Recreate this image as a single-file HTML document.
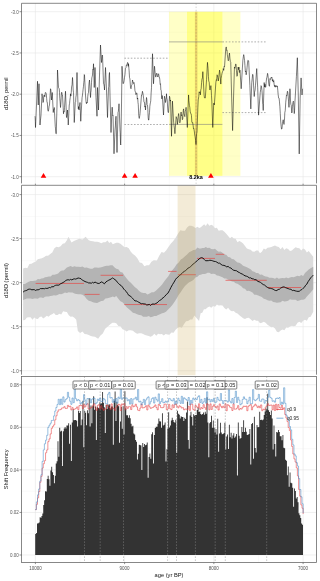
<!DOCTYPE html>
<html><head><meta charset="utf-8"><title>chart</title>
<style>html,body{margin:0;padding:0;background:#fff}svg{display:block}</style></head>
<body>
<svg width="320" height="581" viewBox="0 0 320 581">
<rect width="320" height="581" fill="#fff"/>
<clipPath id="c1"><rect x="21.5" y="3.3" width="295.0" height="181.0"/></clipPath>
<rect x="21.5" y="3.3" width="295.0" height="181.0" fill="#fff"/>
<line x1="80.00" x2="80.00" y1="3.3" y2="184.3" stroke="#f0f0f0" stroke-width="0.35"/>
<line x1="169.22" x2="169.22" y1="3.3" y2="184.3" stroke="#f0f0f0" stroke-width="0.35"/>
<line x1="258.48" x2="258.48" y1="3.3" y2="184.3" stroke="#f0f0f0" stroke-width="0.35"/>
<line x1="21.5" x2="316.5" y1="32.33" y2="32.33" stroke="#f0f0f0" stroke-width="0.35"/>
<line x1="21.5" x2="316.5" y1="73.58" y2="73.58" stroke="#f0f0f0" stroke-width="0.35"/>
<line x1="21.5" x2="316.5" y1="114.83" y2="114.83" stroke="#f0f0f0" stroke-width="0.35"/>
<line x1="21.5" x2="316.5" y1="156.07" y2="156.07" stroke="#f0f0f0" stroke-width="0.35"/>
<line x1="35.40" x2="35.40" y1="3.3" y2="184.3" stroke="#e6e6e6" stroke-width="0.6"/>
<line x1="124.60" x2="124.60" y1="3.3" y2="184.3" stroke="#e6e6e6" stroke-width="0.6"/>
<line x1="213.85" x2="213.85" y1="3.3" y2="184.3" stroke="#e6e6e6" stroke-width="0.6"/>
<line x1="303.10" x2="303.10" y1="3.3" y2="184.3" stroke="#e6e6e6" stroke-width="0.6"/>
<line x1="21.5" x2="316.5" y1="11.70" y2="11.70" stroke="#e6e6e6" stroke-width="0.6"/>
<line x1="21.5" x2="316.5" y1="52.95" y2="52.95" stroke="#e6e6e6" stroke-width="0.6"/>
<line x1="21.5" x2="316.5" y1="94.20" y2="94.20" stroke="#e6e6e6" stroke-width="0.6"/>
<line x1="21.5" x2="316.5" y1="135.45" y2="135.45" stroke="#e6e6e6" stroke-width="0.6"/>
<line x1="21.5" x2="316.5" y1="176.70" y2="176.70" stroke="#e6e6e6" stroke-width="0.6"/>
<g clip-path="url(#c1)">
<rect x="169" y="11.75" width="71.4" height="164.1" fill="#ffff00" fill-opacity="0.22"/>
<rect x="187" y="11.75" width="35.4" height="164.1" fill="#ffff00" fill-opacity="0.32"/>
<rect x="194.9" y="11.75" width="2.5" height="164.1" fill="#cf9440" fill-opacity="0.4"/>
<line x1="196.1" x2="196.1" y1="3.3" y2="184.3" stroke="#555" stroke-opacity="0.55" stroke-width="0.45" stroke-dasharray="1.6 1.6"/>
<line x1="124.4" x2="169" y1="58.2" y2="58.2" stroke="#777" stroke-width="0.6" stroke-dasharray="1.6 1.6"/>
<line x1="124.4" x2="169" y1="124.5" y2="124.5" stroke="#777" stroke-width="0.6" stroke-dasharray="1.6 1.6"/>
<line x1="169" x2="222.4" y1="41.9" y2="41.9" stroke="#808080" stroke-opacity="0.6" stroke-width="1"/>
<line x1="169" x2="222.4" y1="124.4" y2="124.4" stroke="#808080" stroke-opacity="0.6" stroke-width="1"/>
<line x1="222.4" x2="267" y1="41.9" y2="41.9" stroke="#777" stroke-width="0.6" stroke-dasharray="1.6 1.6"/>
<line x1="222.4" x2="267" y1="112.6" y2="112.6" stroke="#777" stroke-width="0.6" stroke-dasharray="1.6 1.6"/>
<polyline points="35.00,116.25 35.15,117.51 35.35,121.53 35.50,127.50 36.50,105.00 37.50,81.25 38.25,105.00 39.00,83.75 40.00,125.00 40.33,120.89 40.61,118.96 41.00,115.00 42.00,93.75 42.26,95.59 42.61,96.64 43.00,102.50 43.39,102.11 43.77,96.20 44.25,95.00 44.77,96.83 45.28,92.66 45.75,92.50 46.25,93.74 46.66,98.53 47.00,102.50 47.34,102.58 47.81,110.05 48.25,111.25 48.60,110.01 49.12,106.14 49.50,105.00 50.50,88.75 50.83,89.86 51.11,93.84 51.50,100.00 51.76,96.93 51.99,95.66 52.25,92.50 53.25,112.50 53.57,109.71 53.97,110.10 54.25,107.50 55.25,126.25 55.54,128.85 55.93,133.59 56.25,133.75 57.00,105.00 57.50,70.00 58.50,87.50 58.86,88.02 59.25,88.94 59.50,92.50 59.81,98.73 60.12,101.78 60.50,107.50 60.76,104.67 61.21,97.22 61.50,92.50 61.88,92.34 62.20,94.83 62.50,95.00 63.50,113.75 63.84,111.38 64.23,111.88 64.50,107.50 65.50,91.25 66.50,117.50 66.82,116.08 67.11,114.14 67.50,110.00 67.76,118.16 68.04,119.56 68.25,125.00 69.25,105.00 69.56,103.70 69.85,100.24 70.25,97.50 70.53,93.83 70.86,96.07 71.25,92.50 71.59,86.94 72.07,84.85 72.50,77.50 72.76,81.13 73.18,90.04 73.50,92.50 74.25,122.50 75.25,102.50 75.62,101.89 75.89,97.18 76.25,95.00 77.00,72.50 78.00,105.00 78.30,108.82 78.74,106.62 79.00,110.00 79.28,106.32 79.64,105.15 80.00,102.50 80.75,121.25 81.75,102.50 82.09,97.69 82.35,96.01 82.75,92.50 83.06,89.84 83.49,86.21 83.75,82.50 84.00,80.75 84.28,74.56 84.50,75.00 85.50,95.00 85.88,100.05 86.23,103.19 86.50,103.75 86.81,102.37 87.12,103.02 87.50,101.25 87.76,96.38 88.13,93.70 88.50,92.50 88.80,86.05 89.10,82.91 89.50,80.00 90.50,97.50 90.77,92.70 91.10,90.69 91.50,82.50 91.84,77.83 92.14,76.80 92.50,75.00 92.80,69.31 93.23,69.78 93.50,63.75 94.25,87.50 95.00,67.50 96.00,97.50 97.00,116.25 97.50,87.50 98.50,110.00 99.50,75.00 100.50,45.00 101.50,62.50 101.82,60.00 102.11,55.52 102.50,55.00 103.50,83.75 103.80,84.22 104.22,86.25 104.50,90.00 105.50,67.50 106.50,90.00 107.50,117.50 108.50,87.50 108.75,86.40 109.18,75.19 109.50,72.50 110.00,95.00 111.00,132.50 112.00,107.50 112.33,107.15 112.68,115.47 113.00,115.00 114.00,153.75 115.00,130.00 115.38,125.96 115.64,120.41 116.00,116.25 117.00,152.50 118.00,112.50 118.28,111.72 118.68,108.23 119.00,103.75 120.00,130.00 120.22,132.83 120.54,143.74 120.75,145.00 121.50,105.00 122.00,66.25 123.00,83.75 123.57,83.22 124.08,80.67 124.50,77.50 124.93,74.77 125.48,68.14 126.00,67.50 126.38,64.91 126.96,65.46 127.50,62.50 127.89,62.68 128.24,66.35 128.50,63.75 128.89,68.35 129.13,70.82 129.50,77.50 129.92,78.87 130.54,87.70 131.00,88.75 131.56,85.34 132.05,84.44 132.50,80.00 132.89,81.62 133.60,83.53 134.00,82.50 134.54,85.99 134.94,90.50 135.50,92.50 135.95,94.68 136.62,92.81 137.00,93.75 137.31,99.15 137.71,97.97 138.00,102.50 138.27,104.44 138.74,115.37 139.00,117.50 139.27,118.44 139.75,115.64 140.00,113.75 141.50,95.00 141.95,94.91 142.43,91.31 143.00,93.75 143.59,98.11 144.02,102.29 144.50,102.50 144.82,107.09 145.22,106.20 145.50,110.00 145.79,105.16 146.14,102.57 146.50,97.50 146.79,99.18 147.12,104.61 147.50,105.00 147.80,109.29 148.19,117.74 148.50,120.00 148.81,120.16 149.18,115.13 149.50,112.50 149.83,106.33 150.17,103.94 150.50,102.50 150.75,100.54 151.13,92.95 151.50,87.50 152.50,53.75 153.50,83.75 154.50,66.25 154.86,70.18 155.15,72.85 155.50,76.25 155.83,77.12 156.12,75.07 156.50,73.75 156.79,73.13 157.22,75.59 157.50,76.25 157.83,76.97 158.24,74.07 158.50,73.75 158.84,75.07 159.18,77.44 159.50,77.50 159.82,79.69 160.17,84.35 160.50,83.75 160.85,90.00 161.24,90.65 161.50,95.00 161.83,98.91 162.23,95.55 162.50,98.75 163.50,115.00 164.50,96.25 164.77,97.58 165.11,98.51 165.50,102.50 165.76,101.23 166.22,98.60 166.50,93.75 166.77,98.12 167.20,99.47 167.50,105.00 167.88,110.67 168.13,112.46 168.50,112.50 169.50,96.25 169.81,97.34 170.25,101.05 170.50,100.00 171.50,136.25 172.44,101.12 173.68,122.83 174.02,125.39 174.52,129.22 174.92,133.68 176.16,116.63 176.51,117.70 177.04,119.24 177.40,124.38 177.82,120.41 178.15,116.83 178.64,113.53 179.07,116.80 179.40,122.11 179.88,122.83 180.34,121.66 180.65,114.74 181.12,111.98 181.44,115.63 181.92,114.72 182.36,119.73 182.75,118.80 183.26,110.44 183.60,108.88 183.94,113.50 184.45,115.39 184.84,116.63 185.17,111.52 185.72,109.64 186.09,107.33 187.33,127.48 188.57,94.92 188.89,100.79 189.43,105.35 189.81,107.33 190.13,111.09 190.56,113.29 191.05,113.53 191.44,115.52 191.89,122.44 192.29,122.83 192.65,122.40 193.13,125.47 193.53,129.03 193.86,128.65 194.28,131.01 194.77,135.23 195.14,136.82 195.65,140.61 196.01,144.53 196.31,138.57 196.61,133.56 196.94,132.13 197.87,107.33 198.22,99.96 198.75,96.62 199.11,91.82 199.45,92.53 200.03,91.75 200.35,94.92 200.81,89.89 201.19,88.57 201.59,82.52 201.97,79.21 202.46,77.78 202.83,71.67 204.07,94.92 204.44,97.85 204.95,97.93 205.31,98.02 206.55,79.42 207.48,62.36 207.77,65.79 208.05,68.63 208.41,76.32 208.73,81.00 209.20,82.21 209.65,88.72 209.98,89.95 210.56,87.48 210.89,85.62 211.16,88.61 211.49,95.36 211.82,101.12 212.75,127.48 213.68,104.22 213.94,103.05 214.28,105.01 214.61,101.12 215.85,82.52 216.34,79.73 216.64,80.38 217.09,74.77 217.46,75.75 217.84,77.78 218.33,80.97 218.73,77.50 219.11,74.16 219.57,70.12 219.88,72.20 220.33,78.07 220.81,84.07 221.13,78.42 221.61,75.46 222.05,73.22 222.47,71.82 222.94,70.85 223.29,68.57 223.74,70.29 224.11,66.50 224.53,67.02 225.78,48.41 226.27,46.92 226.65,50.37 227.02,49.96 227.33,54.76 227.93,58.69 228.26,60.81 228.70,59.90 229.03,56.14 229.50,53.06 229.90,58.10 230.39,61.72 230.74,62.36 231.67,98.02 232.60,130.58 233.53,98.02 234.46,67.02 234.88,68.33 235.33,66.00 235.70,63.91 236.05,64.63 236.47,70.77 236.94,76.32 237.27,75.86 237.79,70.72 238.18,67.02 238.60,69.70 239.01,67.17 239.42,71.67 239.62,72.59 239.79,70.85 239.96,70.15 241.20,88.76 242.45,67.04 242.88,60.11 243.33,56.74 243.69,54.64 244.01,56.06 244.57,60.57 244.93,65.49 245.38,71.71 245.76,71.06 246.17,74.80 246.57,72.41 247.06,67.74 247.41,63.94 247.84,60.33 248.18,60.54 248.65,60.84 249.89,85.66 250.82,108.92 251.75,82.56 252.20,78.58 252.60,74.32 252.99,74.80 254.23,96.52 254.56,92.31 255.10,90.06 255.47,85.66 256.72,68.60 257.65,87.21 258.58,115.13 259.82,98.07 260.25,92.45 260.66,89.45 261.06,85.66 261.46,86.35 261.97,90.68 262.30,94.96 262.67,103.74 262.86,104.07 263.23,110.48 264.16,82.56 264.62,87.10 264.99,84.27 265.40,87.21 265.75,87.26 266.19,81.82 266.64,77.90 266.98,77.21 267.56,73.39 267.88,74.80 268.35,78.90 268.79,83.98 269.12,85.66 269.48,86.28 269.96,78.63 270.37,79.45 270.68,79.01 271.19,77.23 271.61,77.90 271.94,77.39 272.41,80.95 272.85,79.45 273.16,82.12 273.75,80.55 274.09,84.11 274.57,86.59 275.00,85.13 275.33,87.21 275.71,86.09 276.26,86.58 276.57,85.66 276.95,86.64 277.37,85.93 277.81,90.31 278.14,94.38 278.61,97.91 279.05,98.07 279.41,101.12 279.89,106.70 280.29,113.58 280.67,121.06 281.20,126.81 281.53,129.09 281.96,128.90 282.45,123.64 282.77,121.33 283.22,119.74 283.66,123.24 284.02,124.44 284.47,120.24 284.81,112.75 285.26,110.48 285.74,102.21 286.09,99.13 286.50,94.96 286.86,95.48 287.42,91.21 287.74,91.86 288.17,96.07 288.59,101.83 288.98,107.37 289.91,88.76 290.17,91.00 290.50,100.99 290.84,104.27 291.24,105.11 291.75,112.96 292.08,112.03 292.47,106.42 292.86,102.74 293.32,101.17 293.60,102.45 293.91,107.61 294.25,113.58 294.56,110.70 294.92,102.00 295.18,98.07 296.42,76.35 297.35,57.74 298.29,94.96 299.22,153.91 300.15,98.07 301.08,77.90 302.01,94.96 302.20,93.17 302.42,89.92 302.63,88.76" fill="none" stroke="#000" stroke-width="0.5" stroke-linejoin="round"/>
<polygon points="40.70,177.8 46.30,177.8 43.50,172.9" fill="#ff0000"/>
<polygon points="121.80,177.8 127.40,177.8 124.60,172.9" fill="#ff0000"/>
<polygon points="132.30,177.8 137.90,177.8 135.10,172.9" fill="#ff0000"/>
<polygon points="208.10,177.8 213.70,177.8 210.90,172.9" fill="#ff0000"/>
<text x="196" y="178.6" text-anchor="middle" font-size="5.4" font-weight="bold" fill="#000" font-family="Liberation Sans, Arial, sans-serif">8.2ka</text>
</g>
<path d="M21.5 183.4V3.3H316.5V183.4" fill="none" stroke="#606060" stroke-width="0.75"/>
<line x1="19.5" x2="21.5" y1="11.70" y2="11.70" stroke="#4a4a4a" stroke-width="0.6"/>
<text x="18.7" y="13.60" text-anchor="end" font-size="4.5" fill="#555" font-family="Liberation Sans, Arial, sans-serif">-3.0</text>
<line x1="19.5" x2="21.5" y1="52.95" y2="52.95" stroke="#4a4a4a" stroke-width="0.6"/>
<text x="18.7" y="54.85" text-anchor="end" font-size="4.5" fill="#555" font-family="Liberation Sans, Arial, sans-serif">-2.5</text>
<line x1="19.5" x2="21.5" y1="94.20" y2="94.20" stroke="#4a4a4a" stroke-width="0.6"/>
<text x="18.7" y="96.10" text-anchor="end" font-size="4.5" fill="#555" font-family="Liberation Sans, Arial, sans-serif">-2.0</text>
<line x1="19.5" x2="21.5" y1="135.45" y2="135.45" stroke="#4a4a4a" stroke-width="0.6"/>
<text x="18.7" y="137.35" text-anchor="end" font-size="4.5" fill="#555" font-family="Liberation Sans, Arial, sans-serif">-1.5</text>
<line x1="19.5" x2="21.5" y1="176.70" y2="176.70" stroke="#4a4a4a" stroke-width="0.6"/>
<text x="18.7" y="178.60" text-anchor="end" font-size="4.5" fill="#555" font-family="Liberation Sans, Arial, sans-serif">-1.0</text>
<line x1="35.40" x2="35.40" y1="183.70000000000002" y2="185.0" stroke="#4a4a4a" stroke-width="0.6"/>
<line x1="124.60" x2="124.60" y1="183.70000000000002" y2="185.0" stroke="#4a4a4a" stroke-width="0.6"/>
<line x1="213.85" x2="213.85" y1="183.70000000000002" y2="185.0" stroke="#4a4a4a" stroke-width="0.6"/>
<line x1="303.10" x2="303.10" y1="183.70000000000002" y2="185.0" stroke="#4a4a4a" stroke-width="0.6"/>
<text transform="translate(7.6,93.8) rotate(-90)" text-anchor="middle" font-size="5.7" fill="#111" font-family="Liberation Sans, Arial, sans-serif">d18O, permil</text>
<clipPath id="c2"><rect x="21.5" y="185.3" width="295.0" height="190.3"/></clipPath>
<rect x="21.5" y="185.3" width="295.0" height="190.3" fill="#fff"/>
<line x1="80.00" x2="80.00" y1="185.3" y2="375.6" stroke="#f0f0f0" stroke-width="0.35"/>
<line x1="169.22" x2="169.22" y1="185.3" y2="375.6" stroke="#f0f0f0" stroke-width="0.35"/>
<line x1="258.48" x2="258.48" y1="185.3" y2="375.6" stroke="#f0f0f0" stroke-width="0.35"/>
<line x1="21.5" x2="316.5" y1="216.62" y2="216.62" stroke="#f0f0f0" stroke-width="0.35"/>
<line x1="21.5" x2="316.5" y1="260.65" y2="260.65" stroke="#f0f0f0" stroke-width="0.35"/>
<line x1="21.5" x2="316.5" y1="304.68" y2="304.68" stroke="#f0f0f0" stroke-width="0.35"/>
<line x1="21.5" x2="316.5" y1="348.71" y2="348.71" stroke="#f0f0f0" stroke-width="0.35"/>
<line x1="35.40" x2="35.40" y1="185.3" y2="375.6" stroke="#e6e6e6" stroke-width="0.6"/>
<line x1="124.60" x2="124.60" y1="185.3" y2="375.6" stroke="#e6e6e6" stroke-width="0.6"/>
<line x1="213.85" x2="213.85" y1="185.3" y2="375.6" stroke="#e6e6e6" stroke-width="0.6"/>
<line x1="303.10" x2="303.10" y1="185.3" y2="375.6" stroke="#e6e6e6" stroke-width="0.6"/>
<line x1="21.5" x2="316.5" y1="194.60" y2="194.60" stroke="#e6e6e6" stroke-width="0.6"/>
<line x1="21.5" x2="316.5" y1="238.63" y2="238.63" stroke="#e6e6e6" stroke-width="0.6"/>
<line x1="21.5" x2="316.5" y1="282.66" y2="282.66" stroke="#e6e6e6" stroke-width="0.6"/>
<line x1="21.5" x2="316.5" y1="326.69" y2="326.69" stroke="#e6e6e6" stroke-width="0.6"/>
<line x1="21.5" x2="316.5" y1="370.72" y2="370.72" stroke="#e6e6e6" stroke-width="0.6"/>
<g clip-path="url(#c2)">
<polygon points="23.12,268.60 25.21,267.73 27.29,268.37 29.38,264.12 31.46,263.76 33.54,262.60 35.62,261.79 37.71,259.20 39.79,258.85 41.88,258.26 43.96,257.18 46.04,255.76 48.12,255.83 50.21,253.93 52.29,252.44 54.38,248.16 56.46,246.63 58.54,247.23 60.62,246.27 62.71,243.87 64.79,243.20 66.88,240.28 68.44,236.84 71.56,242.62 73.91,241.04 76.25,239.89 79.38,238.70 82.50,239.51 85.62,236.87 88.75,240.14 90.83,241.01 92.92,241.21 95.00,241.73 97.08,241.75 99.17,242.24 101.25,243.35 103.33,242.16 105.42,242.25 107.50,240.40 109.25,243.09 111.00,241.64 112.75,244.16 114.50,243.59 116.25,242.81 118.33,242.77 120.42,243.68 122.50,245.44 124.58,247.20 126.67,246.88 128.75,248.31 130.83,251.85 132.92,254.12 135.00,255.58 137.34,258.18 139.69,262.51 142.03,262.96 144.38,266.24 146.72,265.19 149.06,265.22 151.41,261.87 153.75,260.29 156.88,260.55 159.22,255.87 161.56,252.00 163.91,252.72 166.25,250.34 168.59,246.73 170.94,243.47 173.28,241.09 175.62,237.75 177.97,233.81 180.31,230.16 182.66,230.69 185.00,230.74 187.08,227.46 189.17,225.80 191.25,225.73 193.33,226.52 195.42,227.88 197.50,226.85 199.17,228.09 200.83,227.22 202.50,225.80 204.17,224.16 205.83,225.93 207.50,223.15 209.37,225.71 211.25,224.76 213.12,225.67 215.00,228.33 216.87,227.78 218.75,230.82 220.62,230.30 222.50,230.25 224.37,231.77 226.25,233.80 228.12,236.00 230.00,238.31 231.87,236.68 233.75,238.41 235.62,238.77 237.50,242.14 239.37,240.89 241.25,242.00 243.12,243.44 245.00,245.91 246.87,248.46 248.75,249.35 250.62,249.81 252.50,251.59 254.37,251.85 256.25,250.39 258.12,250.40 260.00,253.27 261.87,251.73 263.75,248.50 265.62,249.59 267.50,247.74 269.37,247.44 271.25,247.02 273.12,246.22 275.00,245.41 276.87,246.58 278.75,247.09 280.62,249.30 282.50,246.92 284.37,250.08 286.25,248.13 288.12,249.07 290.00,251.03 291.87,250.56 293.75,248.85 295.62,247.15 297.50,248.04 299.37,248.19 301.25,250.40 303.12,248.55 305.00,249.57 306.87,252.52 308.75,251.00 310.62,253.46 313.25,256.75 313.25,311.87 310.62,316.65 308.75,317.25 306.87,320.66 305.00,319.67 303.12,320.77 301.25,322.92 299.37,321.69 297.50,322.69 295.62,325.65 293.75,326.16 291.87,325.67 290.00,326.42 288.12,327.71 286.25,327.52 284.37,330.20 282.50,329.38 280.62,330.56 278.75,332.21 276.87,331.72 275.00,328.61 273.12,326.97 271.25,327.32 269.37,326.10 267.50,324.66 265.62,322.79 263.75,321.73 261.87,322.81 260.00,323.13 258.12,320.77 256.25,320.65 254.37,319.77 252.50,320.88 250.62,319.29 248.75,317.81 246.87,317.96 245.00,318.92 243.12,318.29 241.25,316.71 239.37,315.15 237.50,313.54 235.62,312.86 233.75,310.97 231.87,311.32 230.00,310.31 228.12,307.80 226.25,309.55 224.37,308.08 222.50,305.48 220.62,305.15 218.75,305.55 216.87,304.43 215.00,306.69 213.12,306.05 211.25,307.76 209.37,306.51 207.50,307.53 205.62,309.34 203.96,309.26 202.29,312.78 200.62,313.28 199.06,321.02 196.72,318.36 194.38,315.60 192.29,319.49 190.21,319.45 188.12,320.99 186.04,321.22 183.96,324.19 181.88,327.83 179.79,326.96 177.71,327.78 175.62,329.63 173.54,332.69 171.46,332.43 169.38,334.81 167.50,334.50 165.62,334.04 163.75,335.45 161.88,333.97 160.00,334.28 158.12,333.72 156.25,335.78 154.38,333.79 152.50,335.84 150.62,336.74 148.75,336.11 146.88,335.56 145.00,335.07 143.12,334.11 141.25,333.21 139.17,333.37 137.08,333.69 135.00,332.50 132.92,330.69 130.83,330.13 128.75,330.19 126.67,331.46 124.58,330.08 122.50,329.35 120.42,326.21 118.33,325.90 116.25,323.20 114.38,322.77 112.50,322.84 110.62,323.93 107.50,326.84 105.16,328.81 102.81,333.40 100.47,335.50 98.12,338.80 95.00,336.64 92.92,336.49 90.83,335.98 88.75,335.10 86.67,334.30 84.58,333.99 82.50,331.49 80.16,333.09 77.81,330.92 76.25,319.78 74.38,317.64 72.50,316.51 70.62,316.77 68.75,315.21 66.88,312.11 65.00,311.65 63.12,311.29 61.25,314.54 59.38,313.87 57.50,315.08 55.71,315.01 53.93,313.05 52.14,314.37 50.36,314.95 48.57,316.68 46.79,315.67 45.00,317.25 43.21,318.56 41.43,316.59 39.64,317.03 37.86,319.04 36.07,318.78 34.29,317.44 32.50,319.78 30.62,317.23 28.75,317.32 26.88,317.53 25.00,320.04 23.12,320.37" fill="#dcdcdc"/>
<polygon points="23.12,283.93 25.00,283.97 26.88,282.76 28.75,281.72 30.62,280.88 32.50,281.01 34.29,280.69 36.07,280.62 37.86,279.02 39.64,279.32 41.43,278.52 43.21,278.27 45.00,277.32 46.88,276.88 48.75,276.59 50.62,276.53 52.50,274.76 54.38,274.67 56.25,274.18 58.12,273.47 60.00,271.45 61.88,270.41 63.75,270.62 66.88,267.54 68.75,266.73 70.62,266.00 72.50,267.10 74.38,266.22 76.25,266.82 78.33,266.63 80.42,267.12 82.50,266.40 84.58,267.80 86.67,267.53 88.75,268.30 90.62,268.80 92.50,268.65 94.38,267.62 96.25,267.54 98.12,267.67 100.21,267.53 102.29,267.02 104.38,266.35 106.46,265.79 108.54,265.73 110.62,265.24 112.50,265.30 114.38,267.27 116.25,268.80 118.33,269.35 120.42,272.04 122.50,272.59 124.58,275.87 126.67,278.40 128.75,281.12 130.83,282.75 132.92,284.99 135.00,287.30 137.08,288.85 139.17,290.95 141.25,292.43 143.33,293.04 145.42,293.08 147.50,294.54 149.58,293.53 151.67,292.34 153.75,292.24 155.83,290.70 157.92,288.69 160.00,286.74 162.08,284.55 164.17,281.43 166.25,278.85 168.33,276.15 170.42,272.55 172.50,269.92 174.58,267.41 176.67,264.15 178.75,262.38 180.83,259.52 182.92,258.35 185.00,256.33 187.08,254.39 189.17,252.19 191.25,251.26 193.33,250.04 195.42,249.80 197.50,247.62 199.17,248.50 200.83,248.57 202.50,248.07 204.17,248.07 205.83,247.07 207.50,248.05 209.37,247.83 211.25,248.95 213.12,249.36 215.00,248.78 216.87,250.59 218.75,251.73 220.62,251.45 222.50,252.79 224.37,254.48 226.25,254.77 228.12,256.93 230.00,257.18 231.87,259.07 233.75,259.25 235.62,260.88 237.50,262.59 239.37,262.81 241.25,264.10 243.12,265.66 245.00,266.62 246.87,267.16 248.75,268.30 250.62,269.21 252.50,271.24 254.37,271.81 256.25,273.05 258.12,272.97 260.00,274.77 261.87,274.49 263.75,275.73 265.62,276.53 267.50,276.80 269.37,277.80 271.25,277.64 273.12,277.96 275.00,278.66 276.87,277.57 278.75,278.81 280.62,278.31 282.50,277.98 284.37,278.35 286.25,277.42 288.12,278.25 290.00,277.48 291.87,276.90 293.75,277.18 295.62,276.45 297.50,275.80 299.37,276.34 301.25,275.12 303.12,275.95 305.00,272.90 306.87,271.19 308.75,269.43 311.00,267.93 313.25,266.87 313.25,289.37 310.62,292.56 308.75,294.44 306.87,296.58 305.00,298.93 303.12,299.67 301.25,299.87 299.37,300.59 297.50,301.11 295.62,299.78 293.75,299.71 291.87,299.65 290.00,299.32 288.12,300.87 286.25,301.20 284.37,301.51 282.50,300.77 280.62,302.20 278.75,302.38 276.87,302.66 275.00,302.31 273.12,301.97 271.25,300.58 269.37,300.86 267.50,300.15 265.62,299.31 263.75,298.64 261.87,296.98 260.00,296.21 258.12,295.44 256.25,294.78 254.37,294.66 252.50,292.57 250.62,291.52 248.75,290.75 246.87,290.89 245.00,288.78 243.12,288.14 241.25,286.16 239.37,284.89 237.50,283.85 235.62,283.13 233.75,281.79 231.87,281.44 230.00,280.28 228.12,279.72 226.25,278.46 224.37,278.42 222.50,277.23 220.62,276.61 218.75,275.87 216.87,275.60 215.00,274.01 213.12,273.67 211.25,273.97 209.37,272.73 207.50,272.84 205.83,273.75 204.17,274.09 202.50,274.01 200.83,274.66 199.17,274.95 197.50,276.78 195.42,277.42 193.33,280.03 191.25,281.14 189.17,282.17 187.08,284.10 185.00,286.03 182.92,288.66 180.83,291.95 178.75,294.67 176.67,298.42 174.58,301.73 172.50,304.65 170.42,307.33 168.33,309.35 166.25,311.54 164.17,312.65 162.08,313.30 160.00,314.30 158.12,315.06 156.25,315.90 154.38,315.95 152.50,316.78 150.62,317.36 148.75,316.00 146.88,316.80 145.00,316.71 143.12,316.67 141.25,315.31 139.17,314.93 137.08,314.21 135.00,313.29 132.92,312.63 130.83,310.82 128.75,309.07 126.67,307.13 124.58,304.48 122.50,302.31 120.42,301.35 118.33,298.72 116.25,295.88 114.50,297.27 112.75,296.57 111.00,297.13 109.25,297.68 107.50,298.17 105.42,298.53 103.33,300.77 101.25,300.90 99.17,302.10 97.08,302.90 95.00,302.73 92.92,302.29 90.83,301.14 88.75,300.71 86.67,298.95 84.58,296.19 82.50,294.67 80.42,294.34 78.33,294.35 76.25,293.96 74.38,293.44 72.50,292.50 70.62,292.38 68.75,292.33 66.88,293.11 65.00,292.49 63.12,293.46 61.25,294.17 59.38,294.09 57.50,295.12 55.71,295.47 53.93,295.33 52.14,295.87 50.36,295.88 48.57,296.58 46.79,296.45 45.00,296.83 43.21,297.89 41.43,297.48 39.64,297.52 37.86,298.77 36.07,298.41 34.29,298.48 32.50,298.91 30.62,298.45 28.75,298.47 26.88,298.62 25.00,299.24 23.12,299.92" fill="#b4b4b4"/>
<line x1="35.6" x2="84" y1="283.45" y2="283.45" stroke="#e6423f" stroke-width="0.65"/>
<line x1="84.6" x2="99.6" y1="294.4" y2="294.4" stroke="#e6423f" stroke-width="0.65"/>
<line x1="100.6" x2="123.1" y1="275.3" y2="275.3" stroke="#e6423f" stroke-width="0.65"/>
<line x1="124.25" x2="167" y1="304.55" y2="304.55" stroke="#e6423f" stroke-width="0.65"/>
<line x1="168.1" x2="176.6" y1="271.4" y2="271.4" stroke="#e6423f" stroke-width="0.65"/>
<line x1="177.9" x2="195.8" y1="274.7" y2="274.7" stroke="#e6423f" stroke-width="0.65"/>
<line x1="197" x2="215" y1="258.4" y2="258.4" stroke="#e6423f" stroke-width="0.65"/>
<line x1="215.75" x2="224.4" y1="254.3" y2="254.3" stroke="#e6423f" stroke-width="0.65"/>
<line x1="225.5" x2="266.75" y1="280.3" y2="280.3" stroke="#e6423f" stroke-width="0.65"/>
<line x1="267.5" x2="301.25" y1="287.5" y2="287.5" stroke="#e6423f" stroke-width="0.65"/>
<polyline points="23.12,292.13 24.38,291.08 25.62,290.69 26.88,290.30 28.12,289.40 29.38,289.13 30.62,289.28 31.88,289.84 33.12,289.62 34.38,289.70 35.62,290.46 36.88,289.75 38.12,289.85 39.38,289.37 40.62,288.53 41.88,288.66 43.12,288.56 44.38,288.77 45.62,288.22 46.88,288.45 48.12,288.16 49.38,287.47 50.62,287.74 51.88,286.59 53.12,286.94 54.38,285.92 55.62,285.31 56.88,285.08 58.12,285.20 59.38,284.98 60.62,283.57 61.88,283.24 63.12,282.43 64.38,281.92 65.62,280.50 66.88,279.99 68.12,279.72 69.38,280.08 70.62,279.39 71.88,279.94 73.12,279.16 74.38,278.84 75.62,279.07 76.88,278.62 78.12,277.98 79.38,278.26 80.94,278.64 82.50,280.29 83.75,280.82 85.00,281.54 86.25,282.00 87.50,282.36 88.75,283.03 90.00,282.89 91.25,283.27 92.50,282.34 93.75,283.01 95.00,282.03 96.56,282.83 98.12,283.51 99.69,283.21 101.25,281.88 102.81,282.54 104.38,283.82 105.94,281.92 107.50,280.90 108.75,280.19 110.00,279.63 111.25,278.85 112.50,277.96 113.75,278.70 115.00,279.72 116.25,280.59 117.50,282.53 118.75,283.60 120.00,284.93 121.25,285.61 122.50,287.13 123.75,289.02 125.00,290.39 126.25,291.50 127.50,293.40 128.75,295.39 130.00,295.86 131.25,296.94 132.50,298.18 133.75,299.70 135.00,300.97 136.25,300.90 137.50,301.53 138.75,302.25 140.00,302.95 141.25,303.77 142.59,303.59 143.93,303.94 145.27,303.97 146.61,304.94 147.95,304.87 149.29,304.42 150.62,305.46 151.88,304.16 153.12,304.01 154.38,304.17 155.62,303.54 156.88,303.05 158.12,301.81 159.38,300.63 160.62,300.14 161.88,298.67 163.12,297.83 164.69,296.45 166.25,294.53 167.81,293.34 169.38,290.60 170.94,287.38 172.50,284.58 174.06,282.11 175.62,279.34 176.88,277.77 178.12,276.98 179.38,275.53 180.62,274.62 181.88,273.53 183.12,272.12 184.38,271.32 185.62,270.56 186.88,269.30 188.12,268.17 189.38,267.53 190.62,266.57 191.88,265.34 193.12,264.14 194.38,263.16 195.94,261.74 197.50,260.45 199.06,259.02 200.31,258.09 201.56,257.63 202.92,258.10 204.27,259.42 205.62,260.78 207.03,260.71 208.44,260.63 209.84,260.25 211.25,260.42 212.66,260.83 214.06,261.37 215.47,261.53 216.87,262.17 218.28,263.18 219.69,263.18 221.09,264.40 222.50,265.28 223.91,265.36 225.31,265.93 226.72,266.88 228.12,266.41 229.53,267.67 230.94,268.04 232.34,269.41 233.75,270.31 235.16,270.55 236.56,270.79 237.97,271.92 239.37,272.54 240.78,273.47 242.19,274.01 243.59,274.89 245.00,275.83 246.41,276.18 247.81,276.72 249.22,277.92 250.62,277.83 252.03,278.78 253.44,278.95 254.84,279.79 256.25,279.62 257.66,281.42 259.06,281.73 260.47,282.37 261.87,283.52 263.28,284.59 264.69,285.14 266.09,286.48 267.50,287.42 268.91,288.17 270.31,288.29 271.72,288.67 273.12,289.10 274.37,289.99 275.62,290.56 276.87,290.53 278.12,289.47 279.37,289.30 280.62,288.14 281.87,287.46 283.12,286.88 284.37,287.03 285.62,287.68 286.87,288.13 288.12,288.59 289.53,289.15 290.94,289.29 292.34,290.49 293.75,290.35 295.16,290.83 296.56,291.19 297.97,291.38 299.37,291.22 300.62,290.17 301.87,289.55 303.12,288.25 304.37,287.33 305.62,285.23 306.87,284.10 308.12,281.64 309.37,279.88 310.62,277.88 311.94,276.55 313.25,275.12" fill="none" stroke="#000" stroke-width="0.9" stroke-linejoin="round"/>
<rect x="177.6" y="185.3" width="17.9" height="190.3" fill="#c8a041" fill-opacity="0.21"/>
</g>
<path d="M21.5 374.70000000000005V185.3H316.5V374.70000000000005" fill="none" stroke="#606060" stroke-width="0.75"/>
<line x1="19.5" x2="21.5" y1="194.60" y2="194.60" stroke="#4a4a4a" stroke-width="0.6"/>
<text x="18.7" y="196.50" text-anchor="end" font-size="4.5" fill="#555" font-family="Liberation Sans, Arial, sans-serif">-3.0</text>
<line x1="19.5" x2="21.5" y1="238.63" y2="238.63" stroke="#4a4a4a" stroke-width="0.6"/>
<text x="18.7" y="240.53" text-anchor="end" font-size="4.5" fill="#555" font-family="Liberation Sans, Arial, sans-serif">-2.5</text>
<line x1="19.5" x2="21.5" y1="282.66" y2="282.66" stroke="#4a4a4a" stroke-width="0.6"/>
<text x="18.7" y="284.56" text-anchor="end" font-size="4.5" fill="#555" font-family="Liberation Sans, Arial, sans-serif">-2.0</text>
<line x1="19.5" x2="21.5" y1="326.69" y2="326.69" stroke="#4a4a4a" stroke-width="0.6"/>
<text x="18.7" y="328.59" text-anchor="end" font-size="4.5" fill="#555" font-family="Liberation Sans, Arial, sans-serif">-1.5</text>
<line x1="19.5" x2="21.5" y1="370.72" y2="370.72" stroke="#4a4a4a" stroke-width="0.6"/>
<text x="18.7" y="372.62" text-anchor="end" font-size="4.5" fill="#555" font-family="Liberation Sans, Arial, sans-serif">-1.0</text>
<text transform="translate(7.6,280.5) rotate(-90)" text-anchor="middle" font-size="5.7" fill="#111" font-family="Liberation Sans, Arial, sans-serif">d18O (permil)</text>
<clipPath id="c3"><rect x="21.5" y="376.4" width="295.0" height="186.10000000000002"/></clipPath>
<rect x="21.5" y="376.4" width="295.0" height="186.10000000000002" fill="#fff"/>
<line x1="80.00" x2="80.00" y1="376.4" y2="562.5" stroke="#f0f0f0" stroke-width="0.35"/>
<line x1="169.22" x2="169.22" y1="376.4" y2="562.5" stroke="#f0f0f0" stroke-width="0.35"/>
<line x1="258.48" x2="258.48" y1="376.4" y2="562.5" stroke="#f0f0f0" stroke-width="0.35"/>
<line x1="21.5" x2="316.5" y1="406.03" y2="406.03" stroke="#f0f0f0" stroke-width="0.35"/>
<line x1="21.5" x2="316.5" y1="448.59" y2="448.59" stroke="#f0f0f0" stroke-width="0.35"/>
<line x1="21.5" x2="316.5" y1="491.16" y2="491.16" stroke="#f0f0f0" stroke-width="0.35"/>
<line x1="21.5" x2="316.5" y1="533.72" y2="533.72" stroke="#f0f0f0" stroke-width="0.35"/>
<line x1="35.40" x2="35.40" y1="376.4" y2="562.5" stroke="#e6e6e6" stroke-width="0.6"/>
<line x1="124.60" x2="124.60" y1="376.4" y2="562.5" stroke="#e6e6e6" stroke-width="0.6"/>
<line x1="213.85" x2="213.85" y1="376.4" y2="562.5" stroke="#e6e6e6" stroke-width="0.6"/>
<line x1="303.10" x2="303.10" y1="376.4" y2="562.5" stroke="#e6e6e6" stroke-width="0.6"/>
<line x1="21.5" x2="316.5" y1="384.75" y2="384.75" stroke="#e6e6e6" stroke-width="0.6"/>
<line x1="21.5" x2="316.5" y1="427.31" y2="427.31" stroke="#e6e6e6" stroke-width="0.6"/>
<line x1="21.5" x2="316.5" y1="469.88" y2="469.88" stroke="#e6e6e6" stroke-width="0.6"/>
<line x1="21.5" x2="316.5" y1="512.44" y2="512.44" stroke="#e6e6e6" stroke-width="0.6"/>
<line x1="21.5" x2="316.5" y1="555.00" y2="555.00" stroke="#e6e6e6" stroke-width="0.6"/>
<g clip-path="url(#c3)">
<path d="M35.20 555.0V533.90h0.893V555.0zM36.09 555.0V533.11h0.893V555.0zM36.99 555.0V523.43h0.893V555.0zM37.88 555.0V523.27h0.893V555.0zM38.77 555.0V522.39h0.893V555.0zM39.66 555.0V517.21h0.893V555.0zM40.56 555.0V517.78h0.893V555.0zM41.45 555.0V515.90h0.893V555.0zM42.34 555.0V513.55h0.893V555.0zM43.23 555.0V504.93h0.893V555.0zM44.13 555.0V500.28h0.893V555.0zM45.02 555.0V491.25h0.893V555.0zM45.91 555.0V491.38h0.893V555.0zM46.80 555.0V478.98h0.893V555.0zM47.70 555.0V475.81h0.893V555.0zM48.59 555.0V479.18h0.893V555.0zM49.48 555.0V485.74h0.893V555.0zM50.38 555.0V470.42h0.893V555.0zM51.27 555.0V466.75h0.893V555.0zM52.16 555.0V472.18h0.893V555.0zM53.05 555.0V475.11h0.893V555.0zM53.95 555.0V483.37h0.893V555.0zM54.84 555.0V475.79h0.893V555.0zM55.73 555.0V463.40h0.893V555.0zM56.62 555.0V461.34h0.893V555.0zM57.52 555.0V441.16h0.893V555.0zM58.41 555.0V456.75h0.893V555.0zM59.30 555.0V427.64h0.893V555.0zM60.19 555.0V431.59h0.893V555.0zM61.09 555.0V430.75h0.893V555.0zM61.98 555.0V465.89h0.893V555.0zM62.87 555.0V431.35h0.893V555.0zM63.77 555.0V428.42h0.893V555.0zM64.66 555.0V427.09h0.893V555.0zM65.55 555.0V428.40h0.893V555.0zM66.44 555.0V425.44h0.893V555.0zM67.34 555.0V425.61h0.893V555.0zM68.23 555.0V423.34h0.893V555.0zM69.12 555.0V443.75h0.893V555.0zM70.01 555.0V424.73h0.893V555.0zM70.91 555.0V461.10h0.893V555.0zM71.80 555.0V422.55h0.893V555.0zM72.69 555.0V409.20h0.893V555.0zM73.58 555.0V420.16h0.893V555.0zM74.48 555.0V420.05h0.893V555.0zM75.37 555.0V419.92h0.893V555.0zM76.26 555.0V420.83h0.893V555.0zM77.16 555.0V426.41h0.893V555.0zM78.05 555.0V410.70h0.893V555.0zM78.94 555.0V413.02h0.893V555.0zM79.83 555.0V410.93h0.893V555.0zM80.73 555.0V425.26h0.893V555.0zM81.62 555.0V419.55h0.893V555.0zM82.51 555.0V400.80h0.893V555.0zM83.40 555.0V447.31h0.893V555.0zM84.30 555.0V411.05h0.893V555.0zM85.19 555.0V412.75h0.893V555.0zM86.08 555.0V425.19h0.893V555.0zM86.97 555.0V410.21h0.893V555.0zM87.87 555.0V413.19h0.893V555.0zM88.76 555.0V398.37h0.893V555.0zM89.65 555.0V426.56h0.893V555.0zM90.55 555.0V405.48h0.893V555.0zM91.44 555.0V423.29h0.893V555.0zM92.33 555.0V406.20h0.893V555.0zM93.22 555.0V396.30h0.893V555.0zM94.12 555.0V409.82h0.893V555.0zM95.01 555.0V406.41h0.893V555.0zM95.90 555.0V440.06h0.893V555.0zM96.79 555.0V406.75h0.893V555.0zM97.69 555.0V407.86h0.893V555.0zM98.58 555.0V408.22h0.893V555.0zM99.47 555.0V402.23h0.893V555.0zM100.36 555.0V403.81h0.893V555.0zM101.26 555.0V403.19h0.893V555.0zM102.15 555.0V392.02h0.893V555.0zM103.04 555.0V402.69h0.893V555.0zM103.94 555.0V407.33h0.893V555.0zM104.83 555.0V433.09h0.893V555.0zM105.72 555.0V404.73h0.893V555.0zM106.61 555.0V409.04h0.893V555.0zM107.51 555.0V404.35h0.893V555.0zM108.40 555.0V405.38h0.893V555.0zM109.29 555.0V404.18h0.893V555.0zM110.18 555.0V408.61h0.893V555.0zM111.08 555.0V406.39h0.893V555.0zM111.97 555.0V406.47h0.893V555.0zM112.86 555.0V444.65h0.893V555.0zM113.75 555.0V400.72h0.893V555.0zM114.65 555.0V391.38h0.893V555.0zM115.54 555.0V421.10h0.893V555.0zM116.43 555.0V401.77h0.893V555.0zM117.33 555.0V405.04h0.893V555.0zM118.22 555.0V406.17h0.893V555.0zM119.11 555.0V442.78h0.893V555.0zM120.00 555.0V421.43h0.893V555.0zM120.90 555.0V406.89h0.893V555.0zM121.79 555.0V428.63h0.893V555.0zM122.68 555.0V406.16h0.893V555.0zM123.57 555.0V434.53h0.893V555.0zM124.47 555.0V391.26h0.893V555.0zM125.36 555.0V408.54h0.893V555.0zM126.25 555.0V415.29h0.893V555.0zM127.14 555.0V415.23h0.893V555.0zM128.04 555.0V417.70h0.893V555.0zM128.93 555.0V415.28h0.893V555.0zM129.82 555.0V418.35h0.893V555.0zM130.72 555.0V423.66h0.893V555.0zM131.61 555.0V426.58h0.893V555.0zM132.50 555.0V425.70h0.893V555.0zM133.39 555.0V433.56h0.893V555.0zM134.29 555.0V434.54h0.893V555.0zM135.18 555.0V440.11h0.893V555.0zM136.07 555.0V441.79h0.893V555.0zM136.96 555.0V459.47h0.893V555.0zM137.86 555.0V453.79h0.893V555.0zM138.75 555.0V444.83h0.893V555.0zM139.64 555.0V444.94h0.893V555.0zM140.53 555.0V445.45h0.893V555.0zM141.43 555.0V470.03h0.893V555.0zM142.32 555.0V442.90h0.893V555.0zM143.21 555.0V446.90h0.893V555.0zM144.11 555.0V444.10h0.893V555.0zM145.00 555.0V445.24h0.893V555.0zM145.89 555.0V444.68h0.893V555.0zM146.78 555.0V442.38h0.893V555.0zM147.68 555.0V477.73h0.893V555.0zM148.57 555.0V456.93h0.893V555.0zM149.46 555.0V453.48h0.893V555.0zM150.35 555.0V458.73h0.893V555.0zM151.25 555.0V434.34h0.893V555.0zM152.14 555.0V432.32h0.893V555.0zM153.03 555.0V463.54h0.893V555.0zM153.92 555.0V435.02h0.893V555.0zM154.82 555.0V427.97h0.893V555.0zM155.71 555.0V426.81h0.893V555.0zM156.60 555.0V426.66h0.893V555.0zM157.50 555.0V423.68h0.893V555.0zM158.39 555.0V418.44h0.893V555.0zM159.28 555.0V421.22h0.893V555.0zM160.17 555.0V421.57h0.893V555.0zM161.07 555.0V427.72h0.893V555.0zM161.96 555.0V413.28h0.893V555.0zM162.85 555.0V425.49h0.893V555.0zM163.74 555.0V424.83h0.893V555.0zM164.64 555.0V422.48h0.893V555.0zM165.53 555.0V461.58h0.893V555.0zM166.42 555.0V449.23h0.893V555.0zM167.31 555.0V428.78h0.893V555.0zM168.21 555.0V412.34h0.893V555.0zM169.10 555.0V427.53h0.893V555.0zM169.99 555.0V425.38h0.893V555.0zM170.89 555.0V420.41h0.893V555.0zM171.78 555.0V417.80h0.893V555.0zM172.67 555.0V420.07h0.893V555.0zM173.56 555.0V422.00h0.893V555.0zM174.46 555.0V422.85h0.893V555.0zM175.35 555.0V419.79h0.893V555.0zM176.24 555.0V452.88h0.893V555.0zM177.13 555.0V410.86h0.893V555.0zM178.03 555.0V413.67h0.893V555.0zM178.92 555.0V414.65h0.893V555.0zM179.81 555.0V418.38h0.893V555.0zM180.70 555.0V416.13h0.893V555.0zM181.60 555.0V416.97h0.893V555.0zM182.49 555.0V417.09h0.893V555.0zM183.38 555.0V420.92h0.893V555.0zM184.28 555.0V417.84h0.893V555.0zM185.17 555.0V418.94h0.893V555.0zM186.06 555.0V412.62h0.893V555.0zM186.95 555.0V401.48h0.893V555.0zM187.85 555.0V439.96h0.893V555.0zM188.74 555.0V448.74h0.893V555.0zM189.63 555.0V415.47h0.893V555.0zM190.52 555.0V411.85h0.893V555.0zM191.42 555.0V417.04h0.893V555.0zM192.31 555.0V425.56h0.893V555.0zM193.20 555.0V414.32h0.893V555.0zM194.09 555.0V415.48h0.893V555.0zM194.99 555.0V414.99h0.893V555.0zM195.88 555.0V415.12h0.893V555.0zM196.77 555.0V409.94h0.893V555.0zM197.67 555.0V407.46h0.893V555.0zM198.56 555.0V412.10h0.893V555.0zM199.45 555.0V411.40h0.893V555.0zM200.34 555.0V413.88h0.893V555.0zM201.24 555.0V414.76h0.893V555.0zM202.13 555.0V413.91h0.893V555.0zM203.02 555.0V412.49h0.893V555.0zM203.91 555.0V414.86h0.893V555.0zM204.81 555.0V411.84h0.893V555.0zM205.70 555.0V413.63h0.893V555.0zM206.59 555.0V397.36h0.893V555.0zM207.48 555.0V422.51h0.893V555.0zM208.38 555.0V457.25h0.893V555.0zM209.27 555.0V423.21h0.893V555.0zM210.16 555.0V422.01h0.893V555.0zM211.06 555.0V415.66h0.893V555.0zM211.95 555.0V427.74h0.893V555.0zM212.84 555.0V420.41h0.893V555.0zM213.73 555.0V427.77h0.893V555.0zM214.63 555.0V432.51h0.893V555.0zM215.52 555.0V429.00h0.893V555.0zM216.41 555.0V434.43h0.893V555.0zM217.30 555.0V418.64h0.893V555.0zM218.20 555.0V451.76h0.893V555.0zM219.09 555.0V433.55h0.893V555.0zM219.98 555.0V422.83h0.893V555.0zM220.87 555.0V432.60h0.893V555.0zM221.77 555.0V434.31h0.893V555.0zM222.66 555.0V433.88h0.893V555.0zM223.55 555.0V433.00h0.893V555.0zM224.45 555.0V422.81h0.893V555.0zM225.34 555.0V449.38h0.893V555.0zM226.23 555.0V436.38h0.893V555.0zM227.12 555.0V434.55h0.893V555.0zM228.02 555.0V448.93h0.893V555.0zM228.91 555.0V424.72h0.893V555.0zM229.80 555.0V437.26h0.893V555.0zM230.69 555.0V432.65h0.893V555.0zM231.59 555.0V438.57h0.893V555.0zM232.48 555.0V435.51h0.893V555.0zM233.37 555.0V433.18h0.893V555.0zM234.26 555.0V437.82h0.893V555.0zM235.16 555.0V436.38h0.893V555.0zM236.05 555.0V433.96h0.893V555.0zM236.94 555.0V475.58h0.893V555.0zM237.84 555.0V422.57h0.893V555.0zM238.73 555.0V435.74h0.893V555.0zM239.62 555.0V438.67h0.893V555.0zM240.51 555.0V437.97h0.893V555.0zM241.41 555.0V426.90h0.893V555.0zM242.30 555.0V432.12h0.893V555.0zM243.19 555.0V420.18h0.893V555.0zM244.08 555.0V432.03h0.893V555.0zM244.98 555.0V427.68h0.893V555.0zM245.87 555.0V431.77h0.893V555.0zM246.76 555.0V435.02h0.893V555.0zM247.65 555.0V434.86h0.893V555.0zM248.55 555.0V434.10h0.893V555.0zM249.44 555.0V428.95h0.893V555.0zM250.33 555.0V464.52h0.893V555.0zM251.23 555.0V423.89h0.893V555.0zM252.12 555.0V422.94h0.893V555.0zM253.01 555.0V458.74h0.893V555.0zM253.90 555.0V416.65h0.893V555.0zM254.80 555.0V448.00h0.893V555.0zM255.69 555.0V452.53h0.893V555.0zM256.58 555.0V425.09h0.893V555.0zM257.47 555.0V427.32h0.893V555.0zM258.37 555.0V426.99h0.893V555.0zM259.26 555.0V411.70h0.893V555.0zM260.15 555.0V419.95h0.893V555.0zM261.04 555.0V419.74h0.893V555.0zM261.94 555.0V420.14h0.893V555.0zM262.83 555.0V419.59h0.893V555.0zM263.72 555.0V415.02h0.893V555.0zM264.62 555.0V411.51h0.893V555.0zM265.51 555.0V408.21h0.893V555.0zM266.40 555.0V409.47h0.893V555.0zM267.29 555.0V393.65h0.893V555.0zM268.19 555.0V410.23h0.893V555.0zM269.08 555.0V412.07h0.893V555.0zM269.97 555.0V414.94h0.893V555.0zM270.86 555.0V410.51h0.893V555.0zM271.76 555.0V418.56h0.893V555.0zM272.65 555.0V449.55h0.893V555.0zM273.54 555.0V425.46h0.893V555.0zM274.43 555.0V444.05h0.893V555.0zM275.33 555.0V456.41h0.893V555.0zM276.22 555.0V432.03h0.893V555.0zM277.11 555.0V432.58h0.893V555.0zM278.01 555.0V429.98h0.893V555.0zM278.90 555.0V432.03h0.893V555.0zM279.79 555.0V436.14h0.893V555.0zM280.68 555.0V436.23h0.893V555.0zM281.58 555.0V440.34h0.893V555.0zM282.47 555.0V434.91h0.893V555.0zM283.36 555.0V447.64h0.893V555.0zM284.25 555.0V448.20h0.893V555.0zM285.15 555.0V459.85h0.893V555.0zM286.04 555.0V460.79h0.893V555.0zM286.93 555.0V475.29h0.893V555.0zM287.82 555.0V466.52h0.893V555.0zM288.72 555.0V486.65h0.893V555.0zM289.61 555.0V472.59h0.893V555.0zM290.50 555.0V482.75h0.893V555.0zM291.40 555.0V483.29h0.893V555.0zM292.29 555.0V487.65h0.893V555.0zM293.18 555.0V506.68h0.893V555.0zM294.07 555.0V488.40h0.893V555.0zM294.97 555.0V491.07h0.893V555.0zM295.86 555.0V498.57h0.893V555.0zM296.75 555.0V496.90h0.893V555.0zM297.64 555.0V502.32h0.893V555.0zM298.54 555.0V513.28h0.893V555.0zM299.43 555.0V515.33h0.893V555.0zM300.32 555.0V517.99h0.893V555.0zM301.21 555.0V523.40h0.893V555.0zM302.11 555.0V524.79h0.893V555.0z" fill="#333"/>
<path d="M35.20 509.65H36.35 V504.36H37.50 V497.89H38.65 V491.53H39.80 V482.29H40.95 V476.35H42.10 V468.07H43.25 V463.69H44.40 V460.64H45.55 V452.72H46.70 V449.90H47.85 V441.64H49.00 V438.90H50.15 V433.93H51.30 V428.34H52.45 V426.36H53.60 V424.84H54.75 V419.85H55.90 V415.81H57.05 V411.91H58.20 V409.88H59.35 V409.82H60.50 V409.29H61.65 V407.94H62.80 V407.86H63.95 V406.66H65.10 V408.43H66.25 V408.43H67.40 V405.34H68.55 V406.80H69.70 V406.13H70.85 V409.97H72.00 V407.66H73.15 V409.47H74.30 V409.08H75.45 V408.40H76.60 V406.92H77.75 V409.58H78.90 V405.68H80.05 V405.09H81.20 V405.62H82.35 V408.65H83.50 V404.41H84.65 V406.97H85.80 V404.81H86.95 V403.68H88.10 V409.00H89.25 V408.76H90.40 V407.66H91.55 V407.12H92.70 V404.97H93.85 V403.66H95.00 V408.24H96.15 V410.33H97.30 V405.41H98.45 V404.60H99.60 V409.18H100.75 V405.73H101.90 V408.19H103.05 V410.27H104.20 V409.25H105.35 V408.94H106.50 V404.93H107.65 V405.91H108.80 V407.57H109.95 V409.59H111.10 V403.90H112.25 V408.12H113.40 V408.68H114.55 V410.40H115.70 V407.20H116.85 V405.76H118.00 V404.18H119.15 V404.78H120.30 V410.58H121.45 V403.89H122.60 V404.97H123.75 V403.62H124.90 V409.76H126.05 V406.66H127.20 V408.36H128.35 V406.63H129.50 V406.76H130.65 V409.55H131.80 V404.78H132.95 V406.79H134.10 V406.11H135.25 V404.21H136.40 V406.92H137.55 V410.14H138.70 V410.62H139.85 V408.06H141.00 V404.03H142.15 V407.99H143.30 V407.71H144.45 V407.06H145.60 V405.76H146.75 V409.97H147.90 V404.96H149.05 V406.82H150.20 V408.36H151.35 V407.78H152.50 V407.42H153.65 V406.45H154.80 V404.90H155.95 V407.55H157.10 V409.81H158.25 V404.28H159.40 V405.41H160.55 V407.59H161.70 V407.72H162.85 V407.29H164.00 V404.18H165.15 V404.13H166.30 V409.82H167.45 V408.75H168.60 V404.43H169.75 V408.80H170.90 V409.58H172.05 V404.83H173.20 V407.65H174.35 V404.58H175.50 V404.01H176.65 V406.28H177.80 V407.88H178.95 V405.76H180.10 V406.67H181.25 V408.07H182.40 V407.65H183.55 V409.87H184.70 V408.97H185.85 V409.10H187.00 V409.54H188.15 V406.29H189.30 V410.43H190.45 V403.91H191.60 V404.32H192.75 V409.38H193.90 V410.26H195.05 V405.43H196.20 V406.82H197.35 V407.79H198.50 V403.75H199.65 V409.36H200.80 V407.59H201.95 V408.55H203.10 V404.64H204.25 V407.48H205.40 V409.42H206.55 V403.70H207.70 V404.69H208.85 V409.89H210.00 V403.86H211.15 V409.49H212.30 V406.43H213.45 V404.74H214.60 V406.43H215.75 V408.00H216.90 V405.97H218.05 V410.04H219.20 V403.91H220.35 V406.20H221.50 V407.75H222.65 V406.15H223.80 V407.77H224.95 V403.75H226.10 V410.70H227.25 V404.65H228.40 V405.56H229.55 V407.20H230.70 V407.70H231.85 V410.49H233.00 V403.85H234.15 V409.15H235.30 V409.17H236.45 V408.17H237.60 V405.63H238.75 V409.88H239.90 V408.51H241.05 V409.10H242.20 V407.26H243.35 V406.12H244.50 V406.52H245.65 V406.03H246.80 V410.72H247.95 V406.24H249.10 V405.29H250.25 V404.58H251.40 V409.87H252.55 V406.81H253.70 V405.78H254.85 V404.08H256.00 V405.82H257.15 V407.57H258.30 V406.05H259.45 V407.80H260.60 V404.89H261.75 V410.71H262.90 V409.18H264.05 V409.85H265.20 V407.09H266.35 V405.59H267.50 V403.77H268.65 V405.53H269.80 V405.17H270.95 V405.04H272.10 V409.82H273.25 V405.02H274.40 V410.53H275.55 V404.17H276.70 V409.90H277.85 V404.58H279.00 V407.47H280.15 V408.21H281.30 V405.13H282.45 V409.00H283.60 V407.80H284.75 V414.50H285.90 V418.03H287.05 V421.61H288.20 V427.56H289.35 V430.57H290.50 V439.91H291.65 V446.44H292.80 V453.98H293.95 V458.90H295.10 V462.04H296.25 V467.85H297.40 V475.92H298.55 V489.44H299.70 V496.15H300.85 V504.90H302.00 V508.22H303.15 V513.99" fill="none" stroke="#e5383b" stroke-width="0.55"/>
<path d="M35.20 509.60H36.35 V501.90H37.50 V494.85H38.65 V488.99H39.80 V481.00H40.95 V474.76H42.10 V461.36H43.25 V449.88H44.40 V443.79H45.55 V440.17H46.70 V435.29H47.85 V427.25H49.00 V425.15H50.15 V423.22H51.30 V420.43H52.45 V420.37H53.60 V415.88H54.75 V411.04H55.90 V407.42H57.05 V404.42H58.20 V399.27H59.35 V404.62H60.50 V399.03H61.65 V404.33H62.80 V396.87H63.95 V402.04H65.10 V399.70H66.25 V398.63H67.40 V392.31H68.55 V397.28H69.70 V401.24H70.85 V404.32H72.00 V397.99H73.15 V402.70H74.30 V387.09H75.45 V398.74H76.60 V400.79H77.75 V399.55H78.90 V400.48H80.05 V404.03H81.20 V402.67H82.35 V401.96H83.50 V394.63H84.65 V400.08H85.80 V404.36H86.95 V398.59H88.10 V398.90H89.25 V398.65H90.40 V402.87H91.55 V399.19H92.70 V398.53H93.85 V398.05H95.00 V403.75H96.15 V402.81H97.30 V399.06H98.45 V400.68H99.60 V398.09H100.75 V401.58H101.90 V401.43H103.05 V398.48H104.20 V399.68H105.35 V403.71H106.50 V403.71H107.65 V394.18H108.80 V392.39H109.95 V398.01H111.10 V397.58H112.25 V402.26H113.40 V399.52H114.55 V402.53H115.70 V398.53H116.85 V403.14H118.00 V397.10H119.15 V398.65H120.30 V384.72H121.45 V399.33H122.60 V397.76H123.75 V397.89H124.90 V398.23H126.05 V397.98H127.20 V400.81H128.35 V399.63H129.50 V404.15H130.65 V398.52H131.80 V403.87H132.95 V398.98H134.10 V398.92H135.25 V397.15H136.40 V400.06H137.55 V389.51H138.70 V402.02H139.85 V401.19H141.00 V404.66H142.15 V402.54H143.30 V399.35H144.45 V404.58H145.60 V399.88H146.75 V397.94H147.90 V396.84H149.05 V404.21H150.20 V401.69H151.35 V398.73H152.50 V397.73H153.65 V403.07H154.80 V397.20H155.95 V399.39H157.10 V401.19H158.25 V393.86H159.40 V403.63H160.55 V401.54H161.70 V398.68H162.85 V402.75H164.00 V402.50H165.15 V401.01H166.30 V402.22H167.45 V401.83H168.60 V398.59H169.75 V398.92H170.90 V400.59H172.05 V400.98H173.20 V398.57H174.35 V404.22H175.50 V400.99H176.65 V403.31H177.80 V398.18H178.95 V400.48H180.10 V403.42H181.25 V396.31H182.40 V403.46H183.55 V397.78H184.70 V398.81H185.85 V399.65H187.00 V400.97H188.15 V397.50H189.30 V404.78H190.45 V400.39H191.60 V403.19H192.75 V398.00H193.90 V399.74H195.05 V398.70H196.20 V399.52H197.35 V396.94H198.50 V395.76H199.65 V402.55H200.80 V399.39H201.95 V403.47H203.10 V401.89H204.25 V398.41H205.40 V403.14H206.55 V391.79H207.70 V399.74H208.85 V399.16H210.00 V401.99H211.15 V399.62H212.30 V401.43H213.45 V398.33H214.60 V402.50H215.75 V402.12H216.90 V397.37H218.05 V399.84H219.20 V400.77H220.35 V393.52H221.50 V400.50H222.65 V403.52H223.80 V400.59H224.95 V400.32H226.10 V400.89H227.25 V402.16H228.40 V389.89H229.55 V401.23H230.70 V402.96H231.85 V398.57H233.00 V403.34H234.15 V397.51H235.30 V391.19H236.45 V402.49H237.60 V397.24H238.75 V400.14H239.90 V404.78H241.05 V403.78H242.20 V399.47H243.35 V396.85H244.50 V399.00H245.65 V399.30H246.80 V403.67H247.95 V400.89H249.10 V397.21H250.25 V403.73H251.40 V403.65H252.55 V389.58H253.70 V399.79H254.85 V400.71H256.00 V399.73H257.15 V398.40H258.30 V394.42H259.45 V401.06H260.60 V401.32H261.75 V398.99H262.90 V399.13H264.05 V403.22H265.20 V400.44H266.35 V400.36H267.50 V397.26H268.65 V390.15H269.80 V397.38H270.95 V398.24H272.10 V401.29H273.25 V400.79H274.40 V402.20H275.55 V398.49H276.70 V397.97H277.85 V398.46H279.00 V397.56H280.15 V404.41H281.30 V402.07H282.45 V404.05H283.60 V387.78H284.75 V403.30H285.90 V415.09H287.05 V416.89H288.20 V420.70H289.35 V426.51H290.50 V429.87H291.65 V439.28H292.80 V444.92H293.95 V453.96H295.10 V455.92H296.25 V462.70H297.40 V466.07H298.55 V478.54H299.70 V489.50H300.85 V496.83H302.00 V503.81H303.15 V513.02" fill="none" stroke="#4389c6" stroke-width="0.55"/>
<line x1="84.5" x2="84.5" y1="376.4" y2="562.5" stroke="#8c8c8c" stroke-width="0.5" stroke-dasharray="1.5 1.5"/>
<line x1="100.2" x2="100.2" y1="376.4" y2="562.5" stroke="#8c8c8c" stroke-width="0.5" stroke-dasharray="1.5 1.5"/>
<line x1="123.5" x2="123.5" y1="376.4" y2="562.5" stroke="#8c8c8c" stroke-width="0.5" stroke-dasharray="1.5 1.5"/>
<line x1="167.6" x2="167.6" y1="376.4" y2="562.5" stroke="#8c8c8c" stroke-width="0.5" stroke-dasharray="1.5 1.5"/>
<line x1="176.5" x2="176.5" y1="376.4" y2="562.5" stroke="#8c8c8c" stroke-width="0.5" stroke-dasharray="1.5 1.5"/>
<line x1="195.4" x2="195.4" y1="376.4" y2="562.5" stroke="#8c8c8c" stroke-width="0.5" stroke-dasharray="1.5 1.5"/>
<line x1="215.2" x2="215.2" y1="376.4" y2="562.5" stroke="#8c8c8c" stroke-width="0.5" stroke-dasharray="1.5 1.5"/>
<line x1="225.3" x2="225.3" y1="376.4" y2="562.5" stroke="#8c8c8c" stroke-width="0.5" stroke-dasharray="1.5 1.5"/>
<line x1="266.7" x2="266.7" y1="376.4" y2="562.5" stroke="#8c8c8c" stroke-width="0.5" stroke-dasharray="1.5 1.5"/>
<rect x="73.00" y="381.0" width="23" height="8.0" rx="0.8" fill="#fff" stroke="#2a2a2a" stroke-width="0.6"/>
<text x="84.50" y="387.05" text-anchor="middle" font-size="5.6" fill="#222" font-family="Liberation Sans, Arial, sans-serif">p &lt; 0.01</text>
<rect x="88.70" y="381.0" width="23" height="8.0" rx="0.8" fill="#fff" stroke="#2a2a2a" stroke-width="0.6"/>
<text x="100.20" y="387.05" text-anchor="middle" font-size="5.6" fill="#222" font-family="Liberation Sans, Arial, sans-serif">p &lt; 0.01</text>
<rect x="111.80" y="381.0" width="23.4" height="8.0" rx="0.8" fill="#fff" stroke="#2a2a2a" stroke-width="0.6"/>
<text x="123.50" y="387.05" text-anchor="middle" font-size="5.6" fill="#222" font-family="Liberation Sans, Arial, sans-serif">p = 0.01</text>
<rect x="156.10" y="381.0" width="23" height="8.0" rx="0.8" fill="#fff" stroke="#2a2a2a" stroke-width="0.6"/>
<text x="167.60" y="387.05" text-anchor="middle" font-size="5.6" fill="#222" font-family="Liberation Sans, Arial, sans-serif">p &lt; 0.01</text>
<rect x="183.90" y="381.0" width="23" height="8.0" rx="0.8" fill="#fff" stroke="#2a2a2a" stroke-width="0.6"/>
<text x="195.40" y="387.05" text-anchor="middle" font-size="5.6" fill="#222" font-family="Liberation Sans, Arial, sans-serif">p = 0.02</text>
<rect x="165.00" y="381.0" width="23" height="8.0" rx="0.8" fill="#fff" stroke="#2a2a2a" stroke-width="0.6"/>
<text x="176.50" y="387.05" text-anchor="middle" font-size="5.6" fill="#222" font-family="Liberation Sans, Arial, sans-serif">p = 0.03</text>
<rect x="213.80" y="381.0" width="23" height="8.0" rx="0.8" fill="#fff" stroke="#2a2a2a" stroke-width="0.6"/>
<text x="225.30" y="387.05" text-anchor="middle" font-size="5.6" fill="#222" font-family="Liberation Sans, Arial, sans-serif">p = 0.05</text>
<rect x="205.40" y="381.0" width="19.6" height="8.0" rx="0.8" fill="#fff" stroke="#2a2a2a" stroke-width="0.6"/>
<text x="215.20" y="387.05" text-anchor="middle" font-size="5.6" fill="#222" font-family="Liberation Sans, Arial, sans-serif">p = 0.1</text>
<rect x="255.20" y="381.0" width="23" height="8.0" rx="0.8" fill="#fff" stroke="#2a2a2a" stroke-width="0.6"/>
<text x="266.70" y="387.05" text-anchor="middle" font-size="5.6" fill="#222" font-family="Liberation Sans, Arial, sans-serif">p = 0.02</text>
<line x1="276.4" x2="283.4" y1="409.5" y2="409.5" stroke="#e5383b" stroke-width="0.65"/>
<line x1="276.4" x2="283.4" y1="418.2" y2="418.2" stroke="#4389c6" stroke-width="0.65"/>
<text x="286.9" y="411.2" font-size="4.8" fill="#222" font-family="Liberation Sans, Arial, sans-serif">q0.9</text>
<text x="286.9" y="419.9" font-size="4.8" fill="#222" font-family="Liberation Sans, Arial, sans-serif">q0.95</text>
</g>
<rect x="21.5" y="376.4" width="295.0" height="186.10000000000002" fill="none" stroke="#606060" stroke-width="0.75"/>
<line x1="19.5" x2="21.5" y1="384.75" y2="384.75" stroke="#4a4a4a" stroke-width="0.6"/>
<text x="18.7" y="386.65" text-anchor="end" font-size="4.5" fill="#555" font-family="Liberation Sans, Arial, sans-serif">0.08</text>
<line x1="19.5" x2="21.5" y1="427.31" y2="427.31" stroke="#4a4a4a" stroke-width="0.6"/>
<text x="18.7" y="429.21" text-anchor="end" font-size="4.5" fill="#555" font-family="Liberation Sans, Arial, sans-serif">0.06</text>
<line x1="19.5" x2="21.5" y1="469.88" y2="469.88" stroke="#4a4a4a" stroke-width="0.6"/>
<text x="18.7" y="471.77" text-anchor="end" font-size="4.5" fill="#555" font-family="Liberation Sans, Arial, sans-serif">0.04</text>
<line x1="19.5" x2="21.5" y1="512.44" y2="512.44" stroke="#4a4a4a" stroke-width="0.6"/>
<text x="18.7" y="514.34" text-anchor="end" font-size="4.5" fill="#555" font-family="Liberation Sans, Arial, sans-serif">0.02</text>
<line x1="19.5" x2="21.5" y1="555.00" y2="555.00" stroke="#4a4a4a" stroke-width="0.6"/>
<text x="18.7" y="556.90" text-anchor="end" font-size="4.5" fill="#555" font-family="Liberation Sans, Arial, sans-serif">0.00</text>
<line x1="35.40" x2="35.40" y1="562.5" y2="564.1" stroke="#4a4a4a" stroke-width="0.6"/>
<line x1="124.60" x2="124.60" y1="562.5" y2="564.1" stroke="#4a4a4a" stroke-width="0.6"/>
<line x1="213.85" x2="213.85" y1="562.5" y2="564.1" stroke="#4a4a4a" stroke-width="0.6"/>
<line x1="303.10" x2="303.10" y1="562.5" y2="564.1" stroke="#4a4a4a" stroke-width="0.6"/>
<text transform="translate(7.6,469.4) rotate(-90)" text-anchor="middle" font-size="5.7" fill="#111" font-family="Liberation Sans, Arial, sans-serif">Shift Frequency</text>
<text x="35.40" y="570.3" text-anchor="middle" font-size="4.5" fill="#4d4d4d" font-family="Liberation Sans, Arial, sans-serif">10000</text>
<text x="124.60" y="570.3" text-anchor="middle" font-size="4.5" fill="#4d4d4d" font-family="Liberation Sans, Arial, sans-serif">9000</text>
<text x="213.85" y="570.3" text-anchor="middle" font-size="4.5" fill="#4d4d4d" font-family="Liberation Sans, Arial, sans-serif">8000</text>
<text x="303.10" y="570.3" text-anchor="middle" font-size="4.5" fill="#4d4d4d" font-family="Liberation Sans, Arial, sans-serif">7000</text>
<text x="169" y="576.6" text-anchor="middle" font-size="5.7" fill="#111" font-family="Liberation Sans, Arial, sans-serif">age (yr BP)</text>
</svg>
</body></html>
